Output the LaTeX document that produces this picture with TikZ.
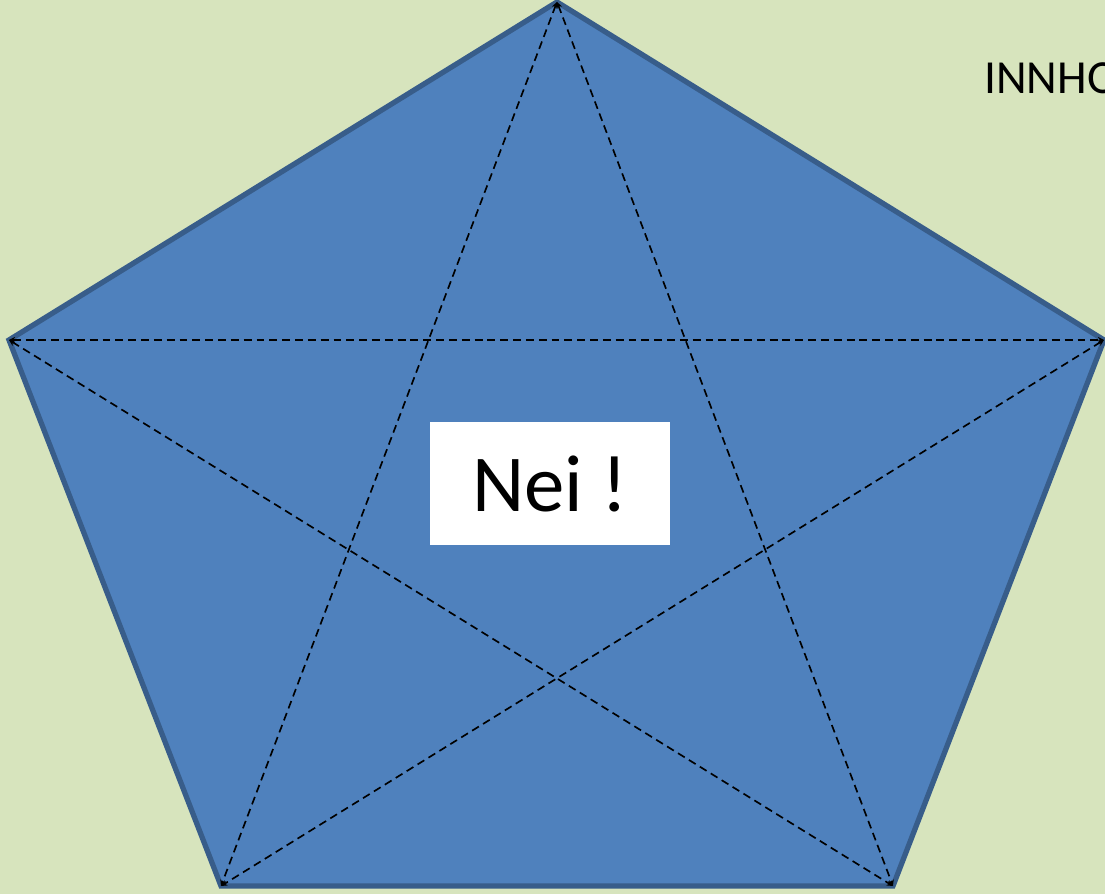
\documentclass[tikz,border=0pt]{standalone}
\usepackage{fontspec}
\setmainfont{Carlito}
\usetikzlibrary{positioning,arrows.meta}
\definecolor{pagebg}{HTML}{D7E4BD}
\definecolor{pentafill}{HTML}{4F81BD}
\definecolor{pentaedge}{HTML}{385D8A}
\tikzset{
  penta/.style={draw=pentaedge, fill=pentafill, line width=3pt, line join=miter},
  diag/.style={{Stealth[length=3.5pt,width=3.5pt]}-{Stealth[length=3.5pt,width=3.5pt]}, dash pattern=on 4.5pt off 2.8pt, line width=0.95pt, black},
  answerbox/.style={fill=white, minimum width=4.8cm, minimum height=2.46cm, inner sep=0pt, font=\fontsize{46}{50}\selectfont},
  headline/.style={anchor=base west, inner sep=0pt, font=\fontsize{27}{30}\selectfont}
}
\begin{document}
\begin{tikzpicture}
  \clip (0,0) rectangle (22.1,17.88);
  \fill[pagebg] (0,0) rectangle (22.1,17.88);

  % corners of the pentagon
  \coordinate (top) at (11.14,17.84);
  \coordinate (left) at (0.18,11.08);
  \coordinate (right) at (22.08,11.08);
  \coordinate (botleft) at (4.42,0.16);
  \coordinate (botright) at (17.86,0.16);

  \draw[penta] (top) -- (right) -- (botright) -- (botleft) -- (left) -- cycle;

  % diagonals
  \draw[diag] (left) -- (right);
  \draw[diag] (top) -- (botleft);
  \draw[diag] (top) -- (botright);
  \draw[diag] (left) -- (botright);
  \draw[diag] (right) -- (botleft);

  \node[answerbox] (answer) at (11.0,8.21) {Nei !};
  \node[headline] (title) at (19.68,16.0) {INNHO};
\end{tikzpicture}
\end{document}
